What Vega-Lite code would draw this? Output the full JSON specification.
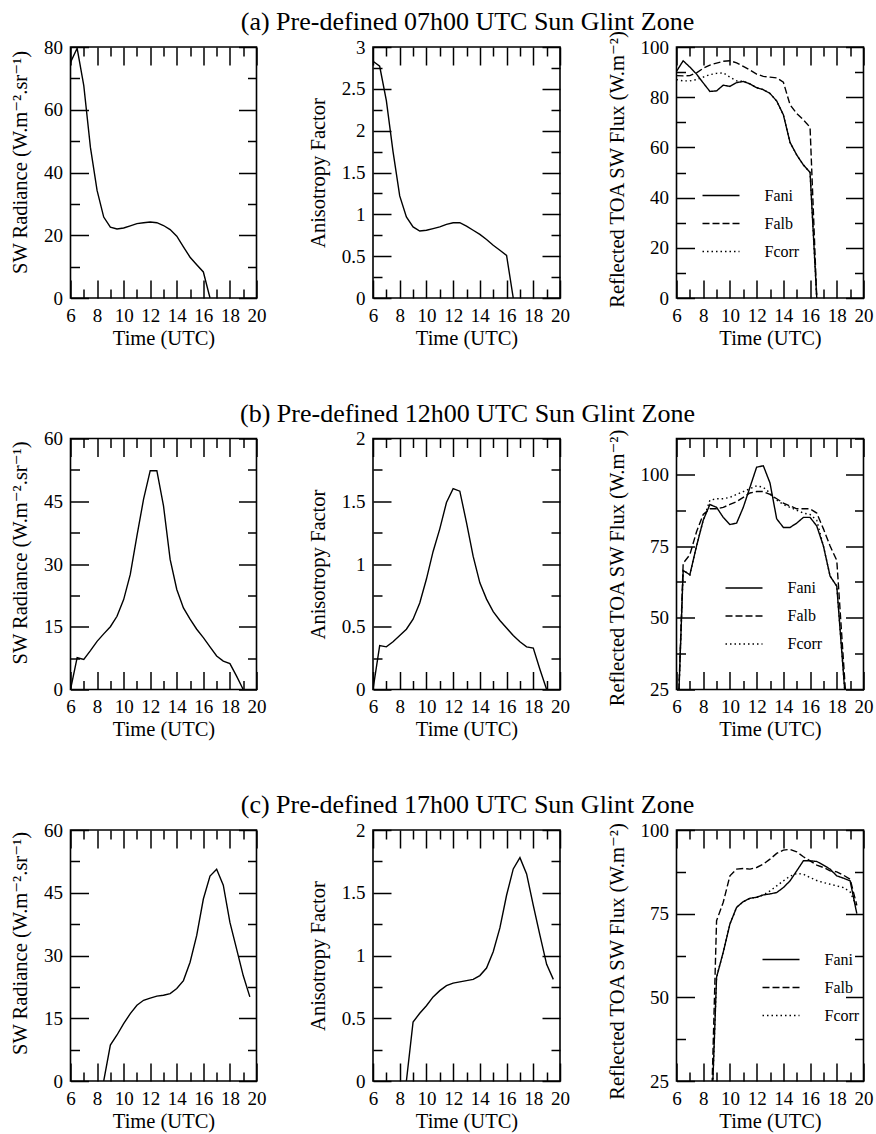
{
 "$schema": "https://vega.github.io/schema/vega-lite/v6.json",
 "background": "white",
 "autosize": {"type": "pad"},
 "padding": {"left": 9.5, "top": 8, "right": 0, "bottom": 0},
 "config": {
  "font": "Liberation Serif, Times New Roman, DejaVu Serif, serif",
  "view": {"stroke": "black", "strokeWidth": 1.6},
  "axis": {"labelFont": "Liberation Serif, Times New Roman, DejaVu Serif, serif", "titleFont": "Liberation Serif, Times New Roman, DejaVu Serif, serif", "labelFontSize": 19, "titleFontSize": 20.5, "labelColor": "black", "titleColor": "black", "tickColor": "black", "tickWidth": 1.5, "domain": false, "grid": false, "labelFlush": false, "labelOverlap": false, "titleFontWeight": "normal"},
  "axisX": {"labelPadding": 26, "titlePadding": -6},
  "axisY": {"labelPadding": 26, "titlePadding": 13},
  "title": {"font": "Liberation Serif, Times New Roman, DejaVu Serif, serif", "fontSize": 26, "fontWeight": "normal", "color": "black", "anchor": "middle", "frame": "group", "baseline": "alphabetic", "offset": 3, "dx": 1},
  "legend": {"labelFont": "Liberation Serif, Times New Roman, DejaVu Serif, serif", "labelFontSize": 16, "labelColor": "black", "padding": 0}
 },
 "datasets": {
  "rad_a": [{"t":6,"v":75.1},{"t":6.5,"v":79.6},{"t":7,"v":67.7},{"t":7.5,"v":48},{"t":8,"v":34.3},{"t":8.5,"v":25.8},{"t":9,"v":22.6},{"t":9.5,"v":22},{"t":10,"v":22.3},{"t":10.5,"v":23},{"t":11,"v":23.7},{"t":11.5,"v":24},{"t":12,"v":24.2},{"t":12.5,"v":24},{"t":13,"v":23.1},{"t":13.5,"v":21.8},{"t":14,"v":19.7},{"t":14.5,"v":16.3},{"t":15,"v":13},{"t":15.5,"v":10.6},{"t":16,"v":8.3},{"t":16.5,"v":0}],
  "ani_a": [{"t":6,"v":2.83},{"t":6.5,"v":2.77},{"t":7,"v":2.36},{"t":7.5,"v":1.75},{"t":8,"v":1.22},{"t":8.5,"v":0.97},{"t":9,"v":0.85},{"t":9.5,"v":0.8},{"t":10,"v":0.81},{"t":10.5,"v":0.83},{"t":11,"v":0.85},{"t":11.5,"v":0.88},{"t":12,"v":0.9},{"t":12.5,"v":0.9},{"t":13,"v":0.86},{"t":13.5,"v":0.81},{"t":14,"v":0.76},{"t":14.5,"v":0.7},{"t":15,"v":0.63},{"t":15.5,"v":0.57},{"t":16,"v":0.51},{"t":16.5,"v":0}],
  "flux_a": [
   {"t":6,"F":90.3,"s":"ani"},{"t":6.5,"F":94.5,"s":"ani"},{"t":7,"F":92,"s":"ani"},{"t":7.5,"F":89.2,"s":"ani"},{"t":8,"F":85.7,"s":"ani"},{"t":8.5,"F":82.3,"s":"ani"},{"t":9,"F":82.5,"s":"ani"},{"t":9.5,"F":84.8,"s":"ani"},{"t":10,"F":84.3,"s":"ani"},{"t":10.5,"F":85.8,"s":"ani"},{"t":11,"F":86.3,"s":"ani"},{"t":11.5,"F":85.3,"s":"ani"},{"t":12,"F":83.8,"s":"ani"},{"t":12.5,"F":83,"s":"ani"},{"t":13,"F":81.5,"s":"ani"},{"t":13.5,"F":78.5,"s":"ani"},{"t":14,"F":73,"s":"ani"},{"t":14.5,"F":62,"s":"ani"},{"t":15,"F":57,"s":"ani"},{"t":15.5,"F":53,"s":"ani"},{"t":16,"F":50,"s":"ani"},{"t":16.5,"F":0,"s":"ani"},
   {"t":6,"F":88.6,"s":"alb"},{"t":6.5,"F":88.5,"s":"alb"},{"t":7,"F":88.6,"s":"alb"},{"t":7.5,"F":89.7,"s":"alb"},{"t":8,"F":91.5,"s":"alb"},{"t":8.5,"F":92.8,"s":"alb"},{"t":9,"F":93.6,"s":"alb"},{"t":9.5,"F":94.3,"s":"alb"},{"t":10,"F":94.5,"s":"alb"},{"t":10.5,"F":93.7,"s":"alb"},{"t":11,"F":92.3,"s":"alb"},{"t":11.5,"F":90.8,"s":"alb"},{"t":12,"F":89.2,"s":"alb"},{"t":12.5,"F":88.3,"s":"alb"},{"t":13,"F":88,"s":"alb"},{"t":13.5,"F":87.7,"s":"alb"},{"t":14,"F":86,"s":"alb"},{"t":14.5,"F":77,"s":"alb"},{"t":15,"F":73.5,"s":"alb"},{"t":15.5,"F":71,"s":"alb"},{"t":16,"F":68,"s":"alb"},{"t":16.5,"F":0,"s":"alb"},
   {"t":6,"F":87,"s":"corr"},{"t":6.5,"F":86.5,"s":"corr"},{"t":7,"F":86.5,"s":"corr"},{"t":7.5,"F":87,"s":"corr"},{"t":8,"F":88,"s":"corr"},{"t":8.5,"F":89,"s":"corr"},{"t":9,"F":89.5,"s":"corr"},{"t":9.5,"F":89.7,"s":"corr"},{"t":10,"F":88,"s":"corr"},{"t":10.5,"F":86.5,"s":"corr"},{"t":11,"F":86.3,"s":"corr"},{"t":11.5,"F":85.3,"s":"corr"},{"t":12,"F":83.8,"s":"corr"},{"t":12.5,"F":83,"s":"corr"},{"t":13,"F":81.5,"s":"corr"},{"t":13.5,"F":78.5,"s":"corr"},{"t":14,"F":73,"s":"corr"},{"t":14.5,"F":62,"s":"corr"},{"t":15,"F":57,"s":"corr"},{"t":15.5,"F":53,"s":"corr"},{"t":16,"F":50,"s":"corr"},{"t":16.5,"F":0,"s":"corr"}
  ],
  "rad_b": [{"t":6,"v":0},{"t":6.5,"v":7.6},{"t":7,"v":7.2},{"t":7.5,"v":9.3},{"t":8,"v":11.5},{"t":8.5,"v":13.3},{"t":9,"v":15},{"t":9.5,"v":17.5},{"t":10,"v":21.5},{"t":10.5,"v":27.5},{"t":11,"v":36.7},{"t":11.5,"v":45.5},{"t":12,"v":52.3},{"t":12.5,"v":52.3},{"t":13,"v":43.9},{"t":13.5,"v":31.1},{"t":14,"v":23.9},{"t":14.5,"v":19.5},{"t":15,"v":16.8},{"t":15.5,"v":14.4},{"t":16,"v":12.4},{"t":16.5,"v":10.2},{"t":17,"v":8},{"t":17.5,"v":6.8},{"t":18,"v":6.2},{"t":18.5,"v":3.2},{"t":19,"v":0}],
  "ani_b": [{"t":6,"v":0},{"t":6.5,"v":0.35},{"t":7,"v":0.34},{"t":7.5,"v":0.38},{"t":8,"v":0.43},{"t":8.5,"v":0.48},{"t":9,"v":0.56},{"t":9.5,"v":0.69},{"t":10,"v":0.88},{"t":10.5,"v":1.1},{"t":11,"v":1.28},{"t":11.5,"v":1.49},{"t":12,"v":1.6},{"t":12.5,"v":1.58},{"t":13,"v":1.33},{"t":13.5,"v":1.06},{"t":14,"v":0.85},{"t":14.5,"v":0.72},{"t":15,"v":0.62},{"t":15.5,"v":0.55},{"t":16,"v":0.49},{"t":16.5,"v":0.43},{"t":17,"v":0.38},{"t":17.5,"v":0.34},{"t":18,"v":0.33},{"t":18.5,"v":0.16},{"t":19,"v":0}],
  "flux_b": [
   {"t":6,"F":0,"s":"ani"},{"t":6.5,"F":66.5,"s":"ani"},{"t":7,"F":65,"s":"ani"},{"t":7.5,"F":75,"s":"ani"},{"t":8,"F":84,"s":"ani"},{"t":8.5,"F":89.5,"s":"ani"},{"t":9,"F":88.5,"s":"ani"},{"t":9.5,"F":85,"s":"ani"},{"t":10,"F":82.5,"s":"ani"},{"t":10.5,"F":83,"s":"ani"},{"t":11,"F":88.5,"s":"ani"},{"t":11.5,"F":95.5,"s":"ani"},{"t":12,"F":102.5,"s":"ani"},{"t":12.5,"F":103,"s":"ani"},{"t":13,"F":97,"s":"ani"},{"t":13.5,"F":84.5,"s":"ani"},{"t":14,"F":81.5,"s":"ani"},{"t":14.5,"F":81.5,"s":"ani"},{"t":15,"F":83,"s":"ani"},{"t":15.5,"F":85,"s":"ani"},{"t":16,"F":85,"s":"ani"},{"t":16.5,"F":82,"s":"ani"},{"t":17,"F":75,"s":"ani"},{"t":17.5,"F":64.5,"s":"ani"},{"t":18,"F":61,"s":"ani"},{"t":19,"F":0,"s":"ani"},
   {"t":6,"F":0,"s":"alb"},{"t":6.5,"F":69,"s":"alb"},{"t":7,"F":72,"s":"alb"},{"t":7.5,"F":80,"s":"alb"},{"t":8,"F":86,"s":"alb"},{"t":8.5,"F":88,"s":"alb"},{"t":9,"F":88,"s":"alb"},{"t":9.5,"F":88.5,"s":"alb"},{"t":10,"F":89.5,"s":"alb"},{"t":10.5,"F":90.5,"s":"alb"},{"t":11,"F":92,"s":"alb"},{"t":11.5,"F":93.5,"s":"alb"},{"t":12,"F":94,"s":"alb"},{"t":12.5,"F":94,"s":"alb"},{"t":13,"F":93,"s":"alb"},{"t":13.5,"F":91.5,"s":"alb"},{"t":14,"F":90,"s":"alb"},{"t":14.5,"F":89,"s":"alb"},{"t":15,"F":88,"s":"alb"},{"t":15.5,"F":88,"s":"alb"},{"t":16,"F":88,"s":"alb"},{"t":16.5,"F":86.5,"s":"alb"},{"t":17,"F":81,"s":"alb"},{"t":17.5,"F":75,"s":"alb"},{"t":18,"F":70,"s":"alb"},{"t":19,"F":0,"s":"alb"},
   {"t":6,"F":0,"s":"corr"},{"t":6.5,"F":66.5,"s":"corr"},{"t":7,"F":65,"s":"corr"},{"t":7.5,"F":75,"s":"corr"},{"t":8,"F":84,"s":"corr"},{"t":8.5,"F":91,"s":"corr"},{"t":9,"F":91.5,"s":"corr"},{"t":9.5,"F":91.5,"s":"corr"},{"t":10,"F":92,"s":"corr"},{"t":10.5,"F":93,"s":"corr"},{"t":11,"F":94,"s":"corr"},{"t":11.5,"F":95,"s":"corr"},{"t":12,"F":96,"s":"corr"},{"t":12.5,"F":95.5,"s":"corr"},{"t":13,"F":93.5,"s":"corr"},{"t":13.5,"F":91,"s":"corr"},{"t":14,"F":89.5,"s":"corr"},{"t":14.5,"F":88.5,"s":"corr"},{"t":15,"F":87.5,"s":"corr"},{"t":15.5,"F":86.5,"s":"corr"},{"t":16,"F":86,"s":"corr"},{"t":16.5,"F":84,"s":"corr"},{"t":17,"F":75,"s":"corr"},{"t":17.5,"F":64.5,"s":"corr"},{"t":18,"F":61,"s":"corr"},{"t":19,"F":0,"s":"corr"}
  ],
  "rad_c": [{"t":8.5,"v":0},{"t":9,"v":8.6},{"t":9.5,"v":11},{"t":10,"v":13.7},{"t":10.5,"v":16.1},{"t":11,"v":18.1},{"t":11.5,"v":19.3},{"t":12,"v":19.8},{"t":12.5,"v":20.3},{"t":13,"v":20.5},{"t":13.5,"v":20.9},{"t":14,"v":22.1},{"t":14.5,"v":24},{"t":15,"v":28.4},{"t":15.5,"v":34.8},{"t":16,"v":43.5},{"t":16.5,"v":49},{"t":17,"v":50.6},{"t":17.5,"v":46.8},{"t":18,"v":37.9},{"t":18.5,"v":31.6},{"t":19,"v":25.2},{"t":19.5,"v":20.1}],
  "ani_c": [{"t":8.5,"v":0},{"t":9,"v":0.47},{"t":9.5,"v":0.54},{"t":10,"v":0.6},{"t":10.5,"v":0.67},{"t":11,"v":0.72},{"t":11.5,"v":0.76},{"t":12,"v":0.78},{"t":12.5,"v":0.79},{"t":13,"v":0.8},{"t":13.5,"v":0.81},{"t":14,"v":0.84},{"t":14.5,"v":0.9},{"t":15,"v":1.03},{"t":15.5,"v":1.22},{"t":16,"v":1.48},{"t":16.5,"v":1.69},{"t":17,"v":1.78},{"t":17.5,"v":1.65},{"t":18,"v":1.4},{"t":18.5,"v":1.16},{"t":19,"v":0.93},{"t":19.5,"v":0.81}],
  "flux_c": [
   {"t":8.5,"F":0,"s":"ani"},{"t":9,"F":56,"s":"ani"},{"t":9.5,"F":63.5,"s":"ani"},{"t":10,"F":71.9,"s":"ani"},{"t":10.5,"F":76.9,"s":"ani"},{"t":11,"F":78.6,"s":"ani"},{"t":11.5,"F":79.6,"s":"ani"},{"t":12,"F":79.9,"s":"ani"},{"t":12.5,"F":80.6,"s":"ani"},{"t":13,"F":80.9,"s":"ani"},{"t":13.5,"F":81.3,"s":"ani"},{"t":14,"F":82.8,"s":"ani"},{"t":14.5,"F":84.8,"s":"ani"},{"t":15,"F":87.8,"s":"ani"},{"t":15.5,"F":90.8,"s":"ani"},{"t":16,"F":90.8,"s":"ani"},{"t":16.5,"F":90.6,"s":"ani"},{"t":17,"F":89.5,"s":"ani"},{"t":17.5,"F":88.3,"s":"ani"},{"t":18,"F":86.3,"s":"ani"},{"t":18.5,"F":85.6,"s":"ani"},{"t":19,"F":84.8,"s":"ani"},{"t":19.5,"F":75,"s":"ani"},
   {"t":8.5,"F":0,"s":"alb"},{"t":9,"F":72.9,"s":"alb"},{"t":9.5,"F":78.4,"s":"alb"},{"t":10,"F":86.3,"s":"alb"},{"t":10.5,"F":88.3,"s":"alb"},{"t":11,"F":88.5,"s":"alb"},{"t":11.5,"F":88.3,"s":"alb"},{"t":12,"F":88.8,"s":"alb"},{"t":12.5,"F":89.8,"s":"alb"},{"t":13,"F":91.3,"s":"alb"},{"t":13.5,"F":93,"s":"alb"},{"t":14,"F":94,"s":"alb"},{"t":14.5,"F":94.2,"s":"alb"},{"t":15,"F":93.5,"s":"alb"},{"t":15.5,"F":92,"s":"alb"},{"t":16,"F":90.8,"s":"alb"},{"t":16.5,"F":89.5,"s":"alb"},{"t":17,"F":88.8,"s":"alb"},{"t":17.5,"F":87.8,"s":"alb"},{"t":18,"F":87.5,"s":"alb"},{"t":18.5,"F":86.5,"s":"alb"},{"t":19,"F":85.3,"s":"alb"},{"t":19.5,"F":77.5,"s":"alb"},
   {"t":8.5,"F":0,"s":"corr"},{"t":9,"F":56,"s":"corr"},{"t":9.5,"F":63.5,"s":"corr"},{"t":10,"F":71.9,"s":"corr"},{"t":10.5,"F":76.9,"s":"corr"},{"t":11,"F":78.6,"s":"corr"},{"t":11.5,"F":79.6,"s":"corr"},{"t":12,"F":79.9,"s":"corr"},{"t":12.5,"F":80.6,"s":"corr"},{"t":13,"F":81.8,"s":"corr"},{"t":13.5,"F":83.3,"s":"corr"},{"t":14,"F":84.8,"s":"corr"},{"t":14.5,"F":86.2,"s":"corr"},{"t":15,"F":87,"s":"corr"},{"t":15.5,"F":86.8,"s":"corr"},{"t":16,"F":85.8,"s":"corr"},{"t":16.5,"F":84.9,"s":"corr"},{"t":17,"F":84.3,"s":"corr"},{"t":17.5,"F":83.8,"s":"corr"},{"t":18,"F":83.3,"s":"corr"},{"t":18.5,"F":82.8,"s":"corr"},{"t":19,"F":81.5,"s":"corr"},{"t":19.5,"F":77,"s":"corr"}
  ]
 },
 "columns": 3,
 "bounds": "flush",
 "spacing": {"row": 140.5, "column": 116.5},
 "resolve": {"scale": {"strokeDash": "independent"}, "legend": {"strokeDash": "independent"}},
 "concat": [
  {"width": 186, "height": 251, "data": {"name": "rad_a"},
   "layer": [
    {"mark": {"type": "line", "color": "black", "strokeWidth": 1.4, "clip": true},
     "encoding": {
      "x": {"field": "t", "type": "quantitative", "scale": {"domain": [6, 20], "nice": false}, "axis": {"orient": "bottom", "values": [6,7,8,9,10,11,12,13,14,15,16,17,18,19,20], "labelExpr": "datum.value % 2 === 0 ? format(datum.value, '~g') : ''", "tickSize": {"condition": {"test": "datum.value % 2 === 0", "value": -18}, "value": -9}, "title": "Time (UTC)"}},
      "y": {"field": "v", "type": "quantitative", "scale": {"domain": [0, 80], "nice": false}, "axis": {"orient": "left", "values": [0,10,20,30,40,50,60,70,80], "labelExpr": "datum.value % 20 === 0 ? format(datum.value, '~g') : ''", "tickSize": {"condition": {"test": "datum.value % 20 === 0", "value": -18}, "value": -9}, "title": "SW Radiance (W.m⁻².sr⁻¹)", "titleY": 115}}
     }},
    {"mark": {"type": "point", "opacity": 0},
     "encoding": {
      "x": {"field": "t", "type": "quantitative", "scale": {"domain": [6, 20], "nice": false}, "axis": {"orient": "top", "values": [6,7,8,9,10,11,12,13,14,15,16,17,18,19,20], "labels": false, "title": null, "tickSize": {"condition": {"test": "datum.value % 2 === 0", "value": -18}, "value": -9}}},
      "y": {"field": "v", "type": "quantitative", "scale": {"domain": [0, 80], "nice": false}, "axis": {"orient": "right", "values": [0,10,20,30,40,50,60,70,80], "labels": false, "title": null, "tickSize": {"condition": {"test": "datum.value % 20 === 0", "value": -18}, "value": -9}}}
     }}
   ],
   "resolve": {"axis": {"x": "independent", "y": "independent"}}},
  {"width": 187, "height": 251, "data": {"name": "ani_a"},
   "title": {"text": "(a) Pre-defined 07h00 UTC Sun Glint Zone"},
   "layer": [
    {"mark": {"type": "line", "color": "black", "strokeWidth": 1.4, "clip": true},
     "encoding": {
      "x": {"field": "t", "type": "quantitative", "scale": {"domain": [6, 20], "nice": false}, "axis": {"orient": "bottom", "values": [6,7,8,9,10,11,12,13,14,15,16,17,18,19,20], "labelExpr": "datum.value % 2 === 0 ? format(datum.value, '~g') : ''", "tickSize": {"condition": {"test": "datum.value % 2 === 0", "value": -18}, "value": -9}, "title": "Time (UTC)"}},
      "y": {"field": "v", "type": "quantitative", "scale": {"domain": [0, 3], "nice": false}, "axis": {"orient": "left", "values": [0,0.25,0.5,0.75,1,1.25,1.5,1.75,2,2.25,2.5,2.75,3], "labelExpr": "datum.value % 0.5 === 0 ? format(datum.value, '~g') : ''", "tickSize": {"condition": {"test": "datum.value % 0.5 === 0", "value": -18}, "value": -9}, "title": "Anisotropy Factor"}}
     }},
    {"mark": {"type": "point", "opacity": 0},
     "encoding": {
      "x": {"field": "t", "type": "quantitative", "scale": {"domain": [6, 20], "nice": false}, "axis": {"orient": "top", "values": [6,7,8,9,10,11,12,13,14,15,16,17,18,19,20], "labels": false, "title": null, "tickSize": {"condition": {"test": "datum.value % 2 === 0", "value": -18}, "value": -9}}},
      "y": {"field": "v", "type": "quantitative", "scale": {"domain": [0, 3], "nice": false}, "axis": {"orient": "right", "values": [0,0.25,0.5,0.75,1,1.25,1.5,1.75,2,2.25,2.5,2.75,3], "labels": false, "title": null, "tickSize": {"condition": {"test": "datum.value % 0.5 === 0", "value": -18}, "value": -9}}}
     }}
   ],
   "resolve": {"axis": {"x": "independent", "y": "independent"}}},
  {"width": 187, "height": 251, "data": {"name": "flux_a"},
   "layer": [
    {"mark": {"type": "line", "color": "black", "strokeWidth": 1.4, "clip": true},
     "encoding": {
      "x": {"field": "t", "type": "quantitative", "scale": {"domain": [6, 20], "nice": false}, "axis": {"orient": "bottom", "values": [6,7,8,9,10,11,12,13,14,15,16,17,18,19,20], "labelExpr": "datum.value % 2 === 0 ? format(datum.value, '~g') : ''", "tickSize": {"condition": {"test": "datum.value % 2 === 0", "value": -18}, "value": -9}, "title": "Time (UTC)"}},
      "y": {"field": "F", "type": "quantitative", "scale": {"domain": [0, 100], "nice": false}, "axis": {"orient": "left", "values": [0,10,20,30,40,50,60,70,80,90,100], "labelExpr": "datum.value % 20 === 0 ? format(datum.value, '~g') : ''", "tickSize": {"condition": {"test": "datum.value % 20 === 0", "value": -18}, "value": -9}, "title": "Reflected TOA SW Flux (W.m⁻²)", "titleY": 122}},
      "strokeDash": {"field": "s", "type": "nominal", "sort": null, "scale": {"domain": ["ani", "alb", "corr"], "range": [[1, 0], [7, 3], [1.5, 3]]},
       "legend": {"orient": "none", "legendX": 25, "legendY": 129, "title": null, "symbolType": "stroke", "symbolSize": 1369, "symbolStrokeWidth": 1.4, "symbolStrokeColor": "black", "labelOffset": 24, "rowPadding": -13.5, "labelExpr": "'F' + datum.label"}}
     }},
    {"mark": {"type": "point", "opacity": 0},
     "encoding": {
      "x": {"field": "t", "type": "quantitative", "scale": {"domain": [6, 20], "nice": false}, "axis": {"orient": "top", "values": [6,7,8,9,10,11,12,13,14,15,16,17,18,19,20], "labels": false, "title": null, "tickSize": {"condition": {"test": "datum.value % 2 === 0", "value": -18}, "value": -9}}},
      "y": {"field": "F", "type": "quantitative", "scale": {"domain": [0, 100], "nice": false}, "axis": {"orient": "right", "values": [0,10,20,30,40,50,60,70,80,90,100], "labels": false, "title": null, "tickSize": {"condition": {"test": "datum.value % 20 === 0", "value": -18}, "value": -9}}}
     }}
   ],
   "resolve": {"axis": {"x": "independent", "y": "independent"}}},

  {"width": 186, "height": 251, "data": {"name": "rad_b"},
   "layer": [
    {"mark": {"type": "line", "color": "black", "strokeWidth": 1.4, "clip": true},
     "encoding": {
      "x": {"field": "t", "type": "quantitative", "scale": {"domain": [6, 20], "nice": false}, "axis": {"orient": "bottom", "values": [6,7,8,9,10,11,12,13,14,15,16,17,18,19,20], "labelExpr": "datum.value % 2 === 0 ? format(datum.value, '~g') : ''", "tickSize": {"condition": {"test": "datum.value % 2 === 0", "value": -18}, "value": -9}, "title": "Time (UTC)"}},
      "y": {"field": "v", "type": "quantitative", "scale": {"domain": [0, 60], "nice": false}, "axis": {"orient": "left", "values": [0,7.5,15,22.5,30,37.5,45,52.5,60], "labelExpr": "datum.value % 15 === 0 ? format(datum.value, '~g') : ''", "tickSize": {"condition": {"test": "datum.value % 15 === 0", "value": -18}, "value": -9}, "title": "SW Radiance (W.m⁻².sr⁻¹)", "titleY": 114}}
     }},
    {"mark": {"type": "point", "opacity": 0},
     "encoding": {
      "x": {"field": "t", "type": "quantitative", "scale": {"domain": [6, 20], "nice": false}, "axis": {"orient": "top", "values": [6,7,8,9,10,11,12,13,14,15,16,17,18,19,20], "labels": false, "title": null, "tickSize": {"condition": {"test": "datum.value % 2 === 0", "value": -18}, "value": -9}}},
      "y": {"field": "v", "type": "quantitative", "scale": {"domain": [0, 60], "nice": false}, "axis": {"orient": "right", "values": [0,7.5,15,22.5,30,37.5,45,52.5,60], "labels": false, "title": null, "tickSize": {"condition": {"test": "datum.value % 15 === 0", "value": -18}, "value": -9}}}
     }}
   ],
   "resolve": {"axis": {"x": "independent", "y": "independent"}}},
  {"width": 187, "height": 251, "data": {"name": "ani_b"},
   "title": {"text": "(b) Pre-defined 12h00 UTC Sun Glint Zone"},
   "layer": [
    {"mark": {"type": "line", "color": "black", "strokeWidth": 1.4, "clip": true},
     "encoding": {
      "x": {"field": "t", "type": "quantitative", "scale": {"domain": [6, 20], "nice": false}, "axis": {"orient": "bottom", "values": [6,7,8,9,10,11,12,13,14,15,16,17,18,19,20], "labelExpr": "datum.value % 2 === 0 ? format(datum.value, '~g') : ''", "tickSize": {"condition": {"test": "datum.value % 2 === 0", "value": -18}, "value": -9}, "title": "Time (UTC)"}},
      "y": {"field": "v", "type": "quantitative", "scale": {"domain": [0, 2], "nice": false}, "axis": {"orient": "left", "values": [0,0.25,0.5,0.75,1,1.25,1.5,1.75,2], "labelExpr": "datum.value % 0.5 === 0 ? format(datum.value, '~g') : ''", "tickSize": {"condition": {"test": "datum.value % 0.5 === 0", "value": -18}, "value": -9}, "title": "Anisotropy Factor"}}
     }},
    {"mark": {"type": "point", "opacity": 0},
     "encoding": {
      "x": {"field": "t", "type": "quantitative", "scale": {"domain": [6, 20], "nice": false}, "axis": {"orient": "top", "values": [6,7,8,9,10,11,12,13,14,15,16,17,18,19,20], "labels": false, "title": null, "tickSize": {"condition": {"test": "datum.value % 2 === 0", "value": -18}, "value": -9}}},
      "y": {"field": "v", "type": "quantitative", "scale": {"domain": [0, 2], "nice": false}, "axis": {"orient": "right", "values": [0,0.25,0.5,0.75,1,1.25,1.5,1.75,2], "labels": false, "title": null, "tickSize": {"condition": {"test": "datum.value % 0.5 === 0", "value": -18}, "value": -9}}}
     }}
   ],
   "resolve": {"axis": {"x": "independent", "y": "independent"}}},
  {"width": 187, "height": 251, "data": {"name": "flux_b"},
   "layer": [
    {"mark": {"type": "line", "color": "black", "strokeWidth": 1.4, "clip": true},
     "encoding": {
      "x": {"field": "t", "type": "quantitative", "scale": {"domain": [6, 20], "nice": false}, "axis": {"orient": "bottom", "values": [6,7,8,9,10,11,12,13,14,15,16,17,18,19,20], "labelExpr": "datum.value % 2 === 0 ? format(datum.value, '~g') : ''", "tickSize": {"condition": {"test": "datum.value % 2 === 0", "value": -18}, "value": -9}, "title": "Time (UTC)"}},
      "y": {"field": "F", "type": "quantitative", "scale": {"domain": [25, 112.5], "nice": false}, "axis": {"orient": "left", "values": [25,37.5,50,62.5,75,87.5,100,112.5], "labelExpr": "datum.value % 25 === 0 ? format(datum.value, '~g') : ''", "tickSize": {"condition": {"test": "datum.value % 25 === 0", "value": -18}, "value": -9}, "title": "Reflected TOA SW Flux (W.m⁻²)", "titleY": 129}},
      "strokeDash": {"field": "s", "type": "nominal", "sort": null, "scale": {"domain": ["ani", "alb", "corr"], "range": [[1, 0], [7, 3], [1.5, 3]]},
       "legend": {"orient": "none", "legendX": 48, "legendY": 130, "title": null, "symbolType": "stroke", "symbolSize": 1369, "symbolStrokeWidth": 1.4, "symbolStrokeColor": "black", "labelOffset": 24, "rowPadding": -13, "labelExpr": "'F' + datum.label"}}
     }},
    {"mark": {"type": "point", "opacity": 0},
     "encoding": {
      "x": {"field": "t", "type": "quantitative", "scale": {"domain": [6, 20], "nice": false}, "axis": {"orient": "top", "values": [6,7,8,9,10,11,12,13,14,15,16,17,18,19,20], "labels": false, "title": null, "tickSize": {"condition": {"test": "datum.value % 2 === 0", "value": -18}, "value": -9}}},
      "y": {"field": "F", "type": "quantitative", "scale": {"domain": [25, 112.5], "nice": false}, "axis": {"orient": "right", "values": [25,37.5,50,62.5,75,87.5,100,112.5], "labels": false, "title": null, "tickSize": {"condition": {"test": "datum.value % 25 === 0", "value": -18}, "value": -9}}}
     }}
   ],
   "resolve": {"axis": {"x": "independent", "y": "independent"}}},

  {"width": 186, "height": 251, "data": {"name": "rad_c"},
   "layer": [
    {"mark": {"type": "line", "color": "black", "strokeWidth": 1.4, "clip": true},
     "encoding": {
      "x": {"field": "t", "type": "quantitative", "scale": {"domain": [6, 20], "nice": false}, "axis": {"orient": "bottom", "values": [6,7,8,9,10,11,12,13,14,15,16,17,18,19,20], "labelExpr": "datum.value % 2 === 0 ? format(datum.value, '~g') : ''", "tickSize": {"condition": {"test": "datum.value % 2 === 0", "value": -18}, "value": -9}, "title": "Time (UTC)"}},
      "y": {"field": "v", "type": "quantitative", "scale": {"domain": [0, 60], "nice": false}, "axis": {"orient": "left", "values": [0,7.5,15,22.5,30,37.5,45,52.5,60], "labelExpr": "datum.value % 15 === 0 ? format(datum.value, '~g') : ''", "tickSize": {"condition": {"test": "datum.value % 15 === 0", "value": -18}, "value": -9}, "title": "SW Radiance (W.m⁻².sr⁻¹)", "titleY": 113}}
     }},
    {"mark": {"type": "point", "opacity": 0},
     "encoding": {
      "x": {"field": "t", "type": "quantitative", "scale": {"domain": [6, 20], "nice": false}, "axis": {"orient": "top", "values": [6,7,8,9,10,11,12,13,14,15,16,17,18,19,20], "labels": false, "title": null, "tickSize": {"condition": {"test": "datum.value % 2 === 0", "value": -18}, "value": -9}}},
      "y": {"field": "v", "type": "quantitative", "scale": {"domain": [0, 60], "nice": false}, "axis": {"orient": "right", "values": [0,7.5,15,22.5,30,37.5,45,52.5,60], "labels": false, "title": null, "tickSize": {"condition": {"test": "datum.value % 15 === 0", "value": -18}, "value": -9}}}
     }}
   ],
   "resolve": {"axis": {"x": "independent", "y": "independent"}}},
  {"width": 187, "height": 251, "data": {"name": "ani_c"},
   "title": {"text": "(c) Pre-defined 17h00 UTC Sun Glint Zone"},
   "layer": [
    {"mark": {"type": "line", "color": "black", "strokeWidth": 1.4, "clip": true},
     "encoding": {
      "x": {"field": "t", "type": "quantitative", "scale": {"domain": [6, 20], "nice": false}, "axis": {"orient": "bottom", "values": [6,7,8,9,10,11,12,13,14,15,16,17,18,19,20], "labelExpr": "datum.value % 2 === 0 ? format(datum.value, '~g') : ''", "tickSize": {"condition": {"test": "datum.value % 2 === 0", "value": -18}, "value": -9}, "title": "Time (UTC)"}},
      "y": {"field": "v", "type": "quantitative", "scale": {"domain": [0, 2], "nice": false}, "axis": {"orient": "left", "values": [0,0.25,0.5,0.75,1,1.25,1.5,1.75,2], "labelExpr": "datum.value % 0.5 === 0 ? format(datum.value, '~g') : ''", "tickSize": {"condition": {"test": "datum.value % 0.5 === 0", "value": -18}, "value": -9}, "title": "Anisotropy Factor"}}
     }},
    {"mark": {"type": "point", "opacity": 0},
     "encoding": {
      "x": {"field": "t", "type": "quantitative", "scale": {"domain": [6, 20], "nice": false}, "axis": {"orient": "top", "values": [6,7,8,9,10,11,12,13,14,15,16,17,18,19,20], "labels": false, "title": null, "tickSize": {"condition": {"test": "datum.value % 2 === 0", "value": -18}, "value": -9}}},
      "y": {"field": "v", "type": "quantitative", "scale": {"domain": [0, 2], "nice": false}, "axis": {"orient": "right", "values": [0,0.25,0.5,0.75,1,1.25,1.5,1.75,2], "labels": false, "title": null, "tickSize": {"condition": {"test": "datum.value % 0.5 === 0", "value": -18}, "value": -9}}}
     }}
   ],
   "resolve": {"axis": {"x": "independent", "y": "independent"}}},
  {"width": 187, "height": 251, "data": {"name": "flux_c"},
   "layer": [
    {"mark": {"type": "line", "color": "black", "strokeWidth": 1.4, "clip": true},
     "encoding": {
      "x": {"field": "t", "type": "quantitative", "scale": {"domain": [6, 20], "nice": false}, "axis": {"orient": "bottom", "values": [6,7,8,9,10,11,12,13,14,15,16,17,18,19,20], "labelExpr": "datum.value % 2 === 0 ? format(datum.value, '~g') : ''", "tickSize": {"condition": {"test": "datum.value % 2 === 0", "value": -18}, "value": -9}, "title": "Time (UTC)"}},
      "y": {"field": "F", "type": "quantitative", "scale": {"domain": [25, 100], "nice": false}, "axis": {"orient": "left", "values": [25,37.5,50,62.5,75,87.5,100], "labelExpr": "datum.value % 25 === 0 ? format(datum.value, '~g') : ''", "tickSize": {"condition": {"test": "datum.value % 25 === 0", "value": -18}, "value": -9}, "title": "Reflected TOA SW Flux (W.m⁻²)", "titleY": 131}},
      "strokeDash": {"field": "s", "type": "nominal", "sort": null, "scale": {"domain": ["ani", "alb", "corr"], "range": [[1, 0], [7, 3], [1.5, 3]]},
       "legend": {"orient": "none", "legendX": 85, "legendY": 110, "title": null, "symbolType": "stroke", "symbolSize": 1369, "symbolStrokeWidth": 1.4, "symbolStrokeColor": "black", "labelOffset": 24, "rowPadding": -13.5, "labelExpr": "'F' + datum.label"}}
     }},
    {"mark": {"type": "point", "opacity": 0},
     "encoding": {
      "x": {"field": "t", "type": "quantitative", "scale": {"domain": [6, 20], "nice": false}, "axis": {"orient": "top", "values": [6,7,8,9,10,11,12,13,14,15,16,17,18,19,20], "labels": false, "title": null, "tickSize": {"condition": {"test": "datum.value % 2 === 0", "value": -18}, "value": -9}}},
      "y": {"field": "F", "type": "quantitative", "scale": {"domain": [25, 100], "nice": false}, "axis": {"orient": "right", "values": [25,37.5,50,62.5,75,87.5,100], "labels": false, "title": null, "tickSize": {"condition": {"test": "datum.value % 25 === 0", "value": -18}, "value": -9}}}
     }}
   ],
   "resolve": {"axis": {"x": "independent", "y": "independent"}}}
 ]
}
